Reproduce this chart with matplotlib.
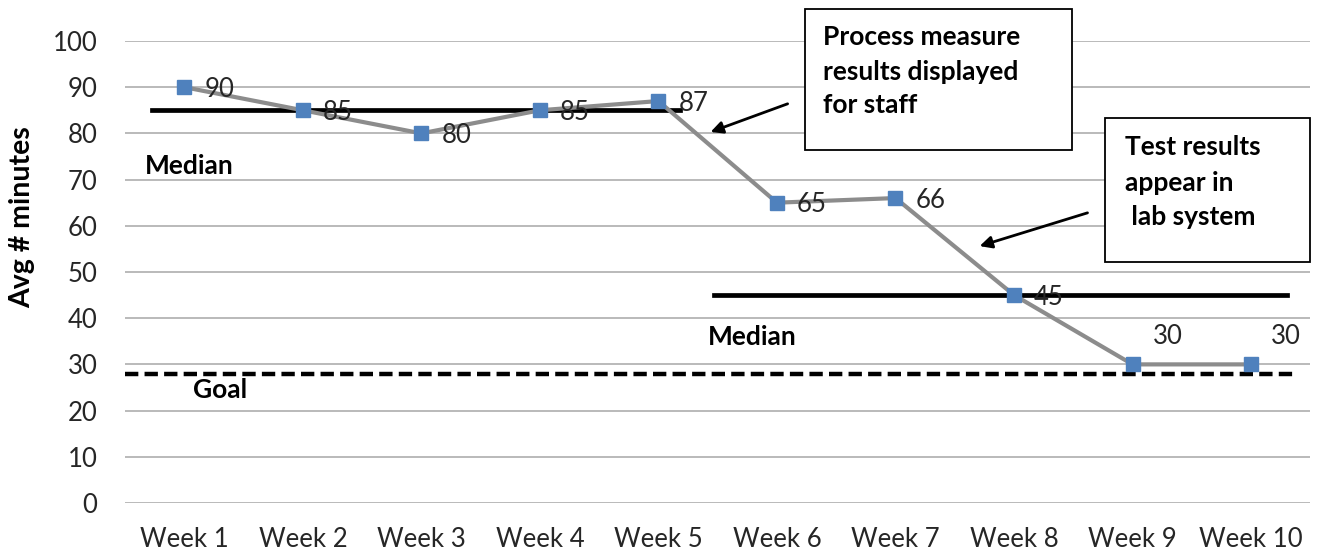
import matplotlib
matplotlib.use("Agg")
import matplotlib.pyplot as plt
from matplotlib.patches import Rectangle

plt.rcParams['font.family'] = ['Lato', 'DejaVu Sans']

weeks = ["Week 1", "Week 2", "Week 3", "Week 4", "Week 5",
         "Week 6", "Week 7", "Week 8", "Week 9", "Week 10"]
minutes = [90, 85, 80, 85, 87, 65, 66, 45, 30, 30]
median1 = 85
median2 = 45
goal = 28
yticks = [0, 10, 20, 30, 40, 50, 60, 70, 80, 90, 100]

x = list(range(1, len(weeks) + 1))

fig = plt.figure(figsize=(13.33, 5.59), dpi=100)
ax = fig.add_axes([0.0938, 0.1002, 0.8892, 0.8265])

# gridlines
for v in yticks:
    ax.axhline(v, color="#b4b4b4", lw=1.3, zorder=0)

# median and goal lines
ax.plot([0.73, 5.18], [median1, median1], color="black", lw=3.4, zorder=2)
ax.plot([5.47, 10.30], [median2, median2], color="black", lw=3.4, zorder=2)
ax.plot([0.5, 10.35], [goal, goal], color="black", lw=3.2,
        linestyle=(0, (3, 1.4)), zorder=2)

# data series
ax.plot(x, minutes, color="#8c8c8c", lw=3, zorder=3)
ax.plot(x, minutes, linestyle="none", marker="s", ms=10,
        color="#4f81bd", zorder=4)

for xi, v in zip(x, minutes):
    if v == 30:
        ax.annotate(str(v), (xi, v), xytext=(35, 28), textcoords="offset pixels",
                    ha="center", va="center", fontsize=18.5, color="#262626")
    else:
        ax.annotate(str(v), (xi, v), xytext=(20, -2), textcoords="offset pixels",
                    ha="left", va="center", fontsize=18.5, color="#262626")

# text labels
ax.text(0.67, 73, "Median", fontsize=19, fontweight="bold", va="center")
ax.text(5.42, 36, "Median", fontsize=19, fontweight="bold", va="center")
ax.text(1.07, 24.5, "Goal", fontsize=19, fontweight="bold", va="center")

# annotation boxes
ax.add_patch(Rectangle((6.24, 76.4), 2.25, 30.6, fc="white", ec="black",
                       lw=1.3, zorder=5, clip_on=False))
ax.add_patch(Rectangle((8.77, 52.2), 1.73, 31.1, fc="white", ec="black",
                       lw=1.3, zorder=5, clip_on=False))
for yy, line in zip([100.9, 93.3, 86.1],
                    ["Process measure", "results displayed", "for staff"]):
    ax.text(6.39, yy, line, fontsize=19, fontweight="bold", va="center",
            ha="left", zorder=6)
for yy, line in zip([77, 69.3, 61.9],
                    ["Test results", "appear in", " lab system"]):
    ax.text(8.94, yy, line, fontsize=19, fontweight="bold", va="center",
            ha="left", zorder=6)

# arrows
ax.annotate("", xy=(5.44, 80.3), xytext=(6.09, 86.4),
            arrowprops=dict(arrowstyle="-|>", color="black", lw=2,
                            mutation_scale=18, shrinkA=0, shrinkB=0), zorder=5)
ax.annotate("", xy=(7.71, 55.6), xytext=(8.62, 62.8),
            arrowprops=dict(arrowstyle="-|>", color="black", lw=2,
                            mutation_scale=18, shrinkA=0, shrinkB=0), zorder=5)

ax.set_xlim(0.5, 10.5)
ax.set_ylim(0, 100)
ax.set_xticks(x)
ax.set_xticklabels(weeks, fontsize=18.5, color="#262626")
ax.set_yticks(yticks)
ax.set_yticklabels([str(v) for v in yticks], fontsize=18.5, color="#262626")
ax.tick_params(axis="x", length=0, pad=17)
ax.tick_params(axis="y", length=0, pad=20)
for s in ax.spines.values():
    s.set_visible(False)

fig.text(0.0165, 0.612, "Avg # minutes", rotation=90, fontsize=20.5,
         fontweight="bold", va="center", ha="center")

fig.savefig("out.png", dpi=100)
